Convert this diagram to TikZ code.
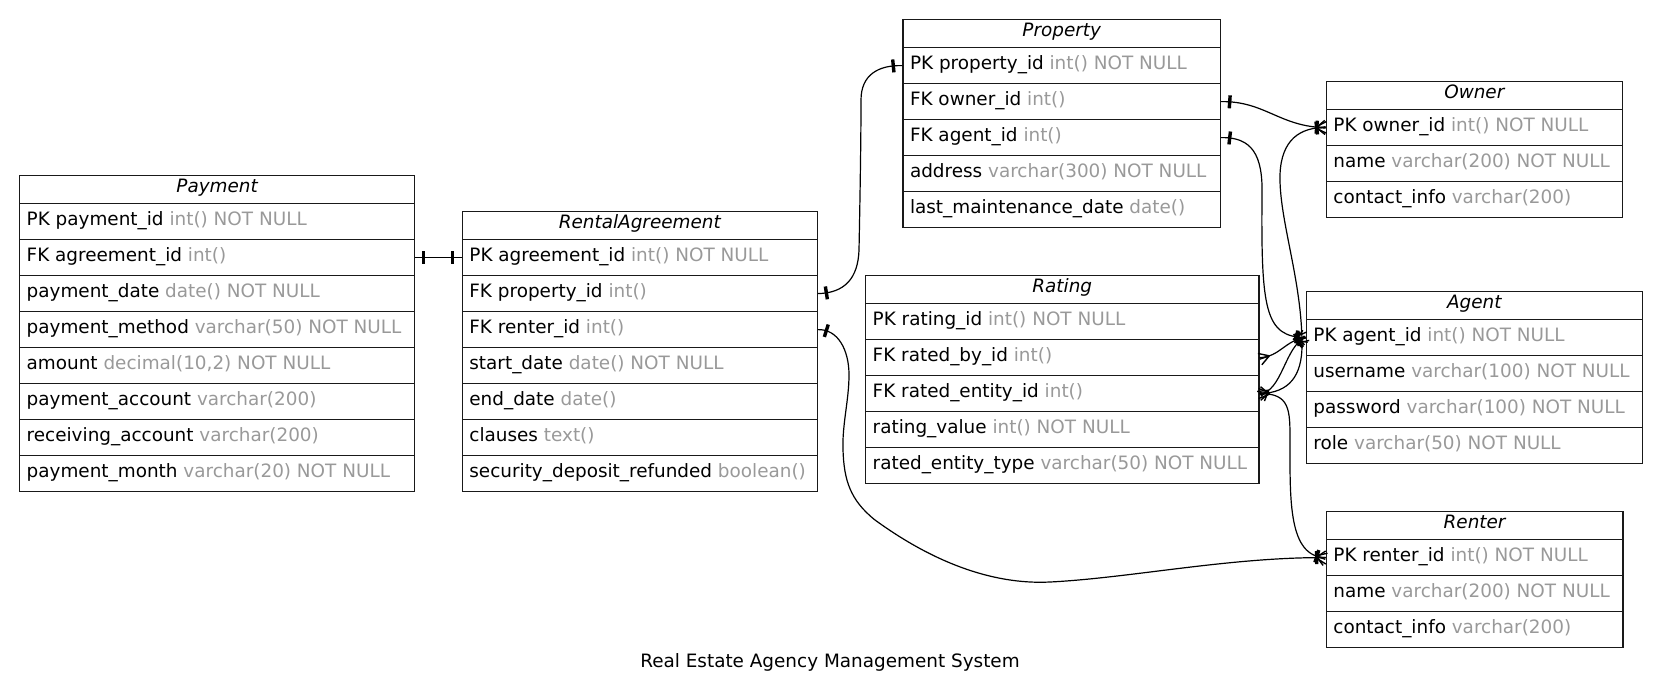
\documentclass[tikz,border=0pt]{standalone}
\usepackage{fontspec}
\setmainfont{DejaVu Sans}[ItalicFont={DejaVu Sans Oblique}]
\usetikzlibrary{decorations.markings}

\definecolor{typegray}{RGB}{153,153,153}
\definecolor{boxline}{RGB}{25,25,25}

% table header: name, x, top, width, title
\newcommand\erhead[5]{%
  \node[hdrbox, minimum width=#4pt] (#1) at (#2,#3) {};
  \node[anchor=base, inner sep=0pt] (#1-t) at ([yshift=-17.3pt]#1.north) {\itshape #5};
}
% table row: name, x, top, width, field, type
\newcommand\errow[6]{%
  \node[rowbox, minimum width=#4pt] (#1) at (#2,#3) {};
  \node[anchor=base west, inner sep=0pt] (#1-t) at ([xshift=7.5pt,yshift=-22.7pt]#1.north west) {#5 \textcolor{typegray}{#6}};
}

\tikzset{
  hdrbox/.style={draw=boxline, line width=1.2pt, anchor=north west, minimum height=28pt, inner sep=0pt},
  rowbox/.style={draw=boxline, line width=1.2pt, anchor=north west, minimum height=36pt, inner sep=0pt},
  rel/.style={line width=1.2pt, draw=black},
  teeA/.style={postaction={decorate, decoration={markings,
      mark=at position 8.5pt with {\fill (-1.7,-6.5) rectangle (1.7,6.5);}}}},
  teeB/.style={postaction={decorate, decoration={markings,
      mark=at position -9pt with {\fill (-1.7,-6.5) rectangle (1.7,6.5);}}}},
  crowA/.style={postaction={decorate, decoration={markings,
      mark=at position 10pt with {\draw[line width=1.4pt] (0,0) -- (-10,6) (0,0) -- (-10,0) (0,0) -- (-10,-6);}}}},
  crowB/.style={postaction={decorate, decoration={markings,
      mark=at position -10pt with {\draw[line width=1.4pt] (0,0) -- (10,6.5) (0,0) -- (10,0) (0,0) -- (10,-6.5);}}}},
  manyB/.style={crowB, teeB},
}

\begin{document}
\begin{tikzpicture}[x=1pt, y=-1pt, font=\fontsize{18.4}{22}\selectfont]
\useasboundingbox (0,0) rectangle (1661,697);

% Payment
\erhead{pay}{19}{175}{395}{Payment}
\errow{pay-id}{19}{203}{395}{PK payment\_id}{int() NOT NULL}
\errow{pay-agr}{19}{239}{395}{FK agreement\_id}{int()}
\errow{pay-date}{19}{275}{395}{payment\_date}{date() NOT NULL}
\errow{pay-meth}{19}{311}{395}{payment\_method}{varchar(50) NOT NULL}
\errow{pay-amt}{19}{347}{395}{amount}{decimal(10,2) NOT NULL}
\errow{pay-pacc}{19}{383}{395}{payment\_account}{varchar(200)}
\errow{pay-racc}{19}{419}{395}{receiving\_account}{varchar(200)}
\errow{pay-month}{19}{455}{395}{payment\_month}{varchar(20) NOT NULL}

% RentalAgreement
\erhead{ra}{461.7}{211}{355}{RentalAgreement}
\errow{ra-pk}{461.7}{239}{355}{PK agreement\_id}{int() NOT NULL}
\errow{ra-prop}{461.7}{275}{355}{FK property\_id}{int()}
\errow{ra-rent}{461.7}{311}{355}{FK renter\_id}{int()}
\errow{ra-start}{461.7}{347}{355}{start\_date}{date() NOT NULL}
\errow{ra-end}{461.7}{383}{355}{end\_date}{date()}
\errow{ra-cl}{461.7}{419}{355}{clauses}{text()}
\errow{ra-dep}{461.7}{455}{355}{security\_deposit\_refunded}{boolean()}

% Property
\erhead{prop}{902.3}{19}{317.7}{Property}
\errow{prop-pk}{902.3}{47}{317.7}{PK property\_id}{int() NOT NULL}
\errow{prop-own}{902.3}{83}{317.7}{FK owner\_id}{int()}
\errow{prop-agent}{902.3}{119}{317.7}{FK agent\_id}{int()}
\errow{prop-addr}{902.3}{155}{317.7}{address}{varchar(300) NOT NULL}
\errow{prop-maint}{902.3}{191}{317.7}{last\_maintenance\_date}{date()}

% Owner
\erhead{own}{1325.7}{81}{296}{Owner}
\errow{own-pk}{1325.7}{109}{296}{PK owner\_id}{int() NOT NULL}
\errow{own-name}{1325.7}{145}{296}{name}{varchar(200) NOT NULL}
\errow{own-ci}{1325.7}{181}{296}{contact\_info}{varchar(200)}

% Agent
\erhead{ag}{1305.7}{291}{336}{Agent}
\errow{ag-pk}{1305.7}{319}{336}{PK agent\_id}{int() NOT NULL}
\errow{ag-user}{1305.7}{355}{336}{username}{varchar(100) NOT NULL}
\errow{ag-pw}{1305.7}{391}{336}{password}{varchar(100) NOT NULL}
\errow{ag-role}{1305.7}{427}{336}{role}{varchar(50) NOT NULL}

% Rating
\erhead{rat}{865}{275}{393.3}{Rating}
\errow{rat-pk}{865}{303}{393.3}{PK rating\_id}{int() NOT NULL}
\errow{rat-by}{865}{339}{393.3}{FK rated\_by\_id}{int()}
\errow{rat-ent}{865}{375}{393.3}{FK rated\_entity\_id}{int()}
\errow{rat-val}{865}{411}{393.3}{rating\_value}{int() NOT NULL}
\errow{rat-type}{865}{447}{393.3}{rated\_entity\_type}{varchar(50) NOT NULL}

% Renter
\erhead{ren}{1325.7}{511}{296.6}{Renter}
\errow{ren-pk}{1325.7}{539}{296.6}{PK renter\_id}{int() NOT NULL}
\errow{ren-name}{1325.7}{575}{296.6}{name}{varchar(200) NOT NULL}
\errow{ren-ci}{1325.7}{611}{296.6}{contact\_info}{varchar(200)}

% relationships
\draw[rel, teeA, teeB] (pay-agr.east) -- (ra-pk.west);
\draw[rel, teeA, teeB] (ra-prop.east) .. controls (845,293) and (858,278) .. (859,250)
  .. controls (860,200) and (861,140) .. (861,100)
  .. controls (861,75) and (878,65) .. (prop-pk.west);
\draw[rel, teeA, manyB] (ra-rent.east) .. controls (838,329) and (849,350) .. (849,375)
  .. controls (849,400) and (842,425) .. (843,450)
  .. controls (844,480) and (850,500) .. (875,520)
  .. controls (930,560) and (990,585) .. (1050,582)
  .. controls (1130,578) and (1230,557) .. (ren-pk.west);
\draw[rel, teeA, manyB] (prop-own.east) .. controls (1265,101) and (1280,127) .. (own-pk.west);
\draw[rel, teeA, manyB] (prop-agent.east) .. controls (1252,137) and (1263,155) .. (1262,195)
  .. controls (1261,310) and (1265,337) .. (ag-pk.west);
\draw[rel, crowA, manyB] (rat-by.east) .. controls (1280,357) and (1285,340) .. (ag-pk.west);
\draw[rel, crowA, manyB] (rat-ent.east) .. controls (1282,393) and (1285,345) .. (ag-pk.west);
\draw[rel, crowA, manyB] (rat-ent.east) .. controls (1290,393) and (1302,375) .. (1302,345)
  .. controls (1302,280) and (1279,220) .. (1280,175)
  .. controls (1281,140) and (1300,127) .. (own-pk.west);
\draw[rel, crowA, manyB] (rat-ent.east) .. controls (1290,393) and (1290,410) .. (1290,440)
  .. controls (1290,500) and (1288,557) .. (ren-pk.west);

% caption
\node[anchor=base, inner sep=0pt] (title) at (830,667) {Real Estate Agency Management System};
\end{tikzpicture}
\end{document}
